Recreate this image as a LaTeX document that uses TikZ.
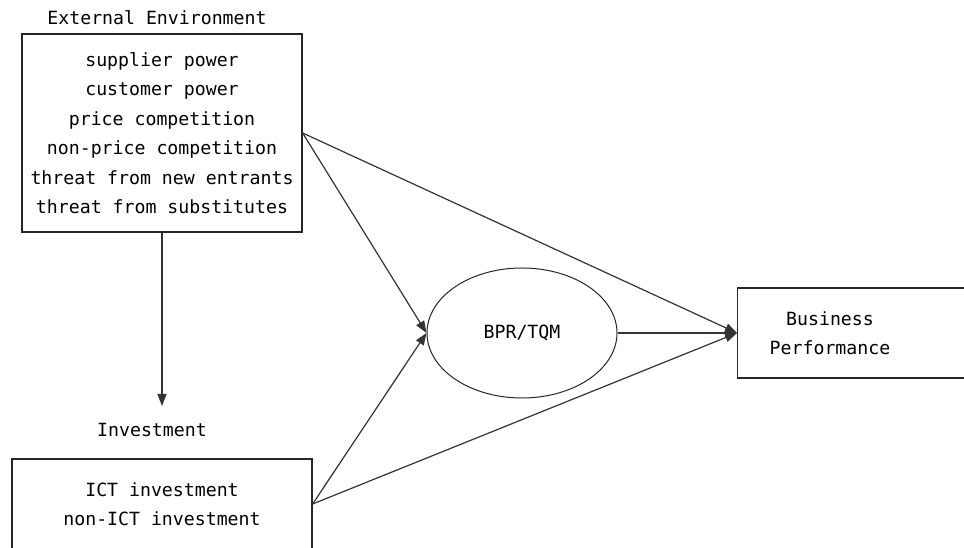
\documentclass[tikz,border=0pt]{standalone}
\usepackage{fontspec}
\setmonofont{DejaVu Sans Mono}
\usetikzlibrary{arrows.meta,shapes.geometric}
\begin{document}
\begin{tikzpicture}[x=1pt,y=1pt,
  font=\ttfamily\fontsize{18.2}{29.5}\selectfont,
  box/.style={draw=black!85,line width=1.3pt,rectangle,inner sep=0pt,align=center},
  oval/.style={draw=black!85,line width=1pt,ellipse,inner sep=0pt},
  caption/.style={inner sep=0pt},
  link/.style={draw=black!80,line width=1.2pt,-{Triangle[length=12pt,width=9pt]}}]
  \useasboundingbox (0,0) rectangle (964,548);
  \clip (0,0) rectangle (964,548);

  % boxes and labels
  \node[caption] (extlabel) at (157,530) {External Environment};
  \node[box,minimum width=280,minimum height=198] (ext) at (162,415)
    {supplier power\\customer power\\price competition\\non-price competition\\threat from new entrants\\threat from substitutes};

  \node[caption] (invlabel) at (152,118) {Investment};
  \node[box,minimum width=300,minimum height=90] (inv) at (162,44)
    {ICT investment\\non-ICT investment};

  \node[oval,minimum width=190,minimum height=130] (bpr) at (522,215) {BPR/TQM};

  \node[box,minimum width=240,minimum height=90,anchor=west] (bp) at (737,215) {};
  \node[caption,align=center] (bptext) at (830,215) {Business\\Performance};

  \coordinate (invtip) at (162,142);

  % connectors
  \draw[link] (ext.south) -- (invtip);
  \draw[link] (ext.east) -- (bpr.west);
  \draw[link] (ext.east) -- (bp.west);
  \draw[link] (inv.east) -- (bpr.west);
  \draw[link] (inv.east) -- (bp.west);
  \draw[link] (bpr.east) -- (bp.west);
\end{tikzpicture}
\end{document}
